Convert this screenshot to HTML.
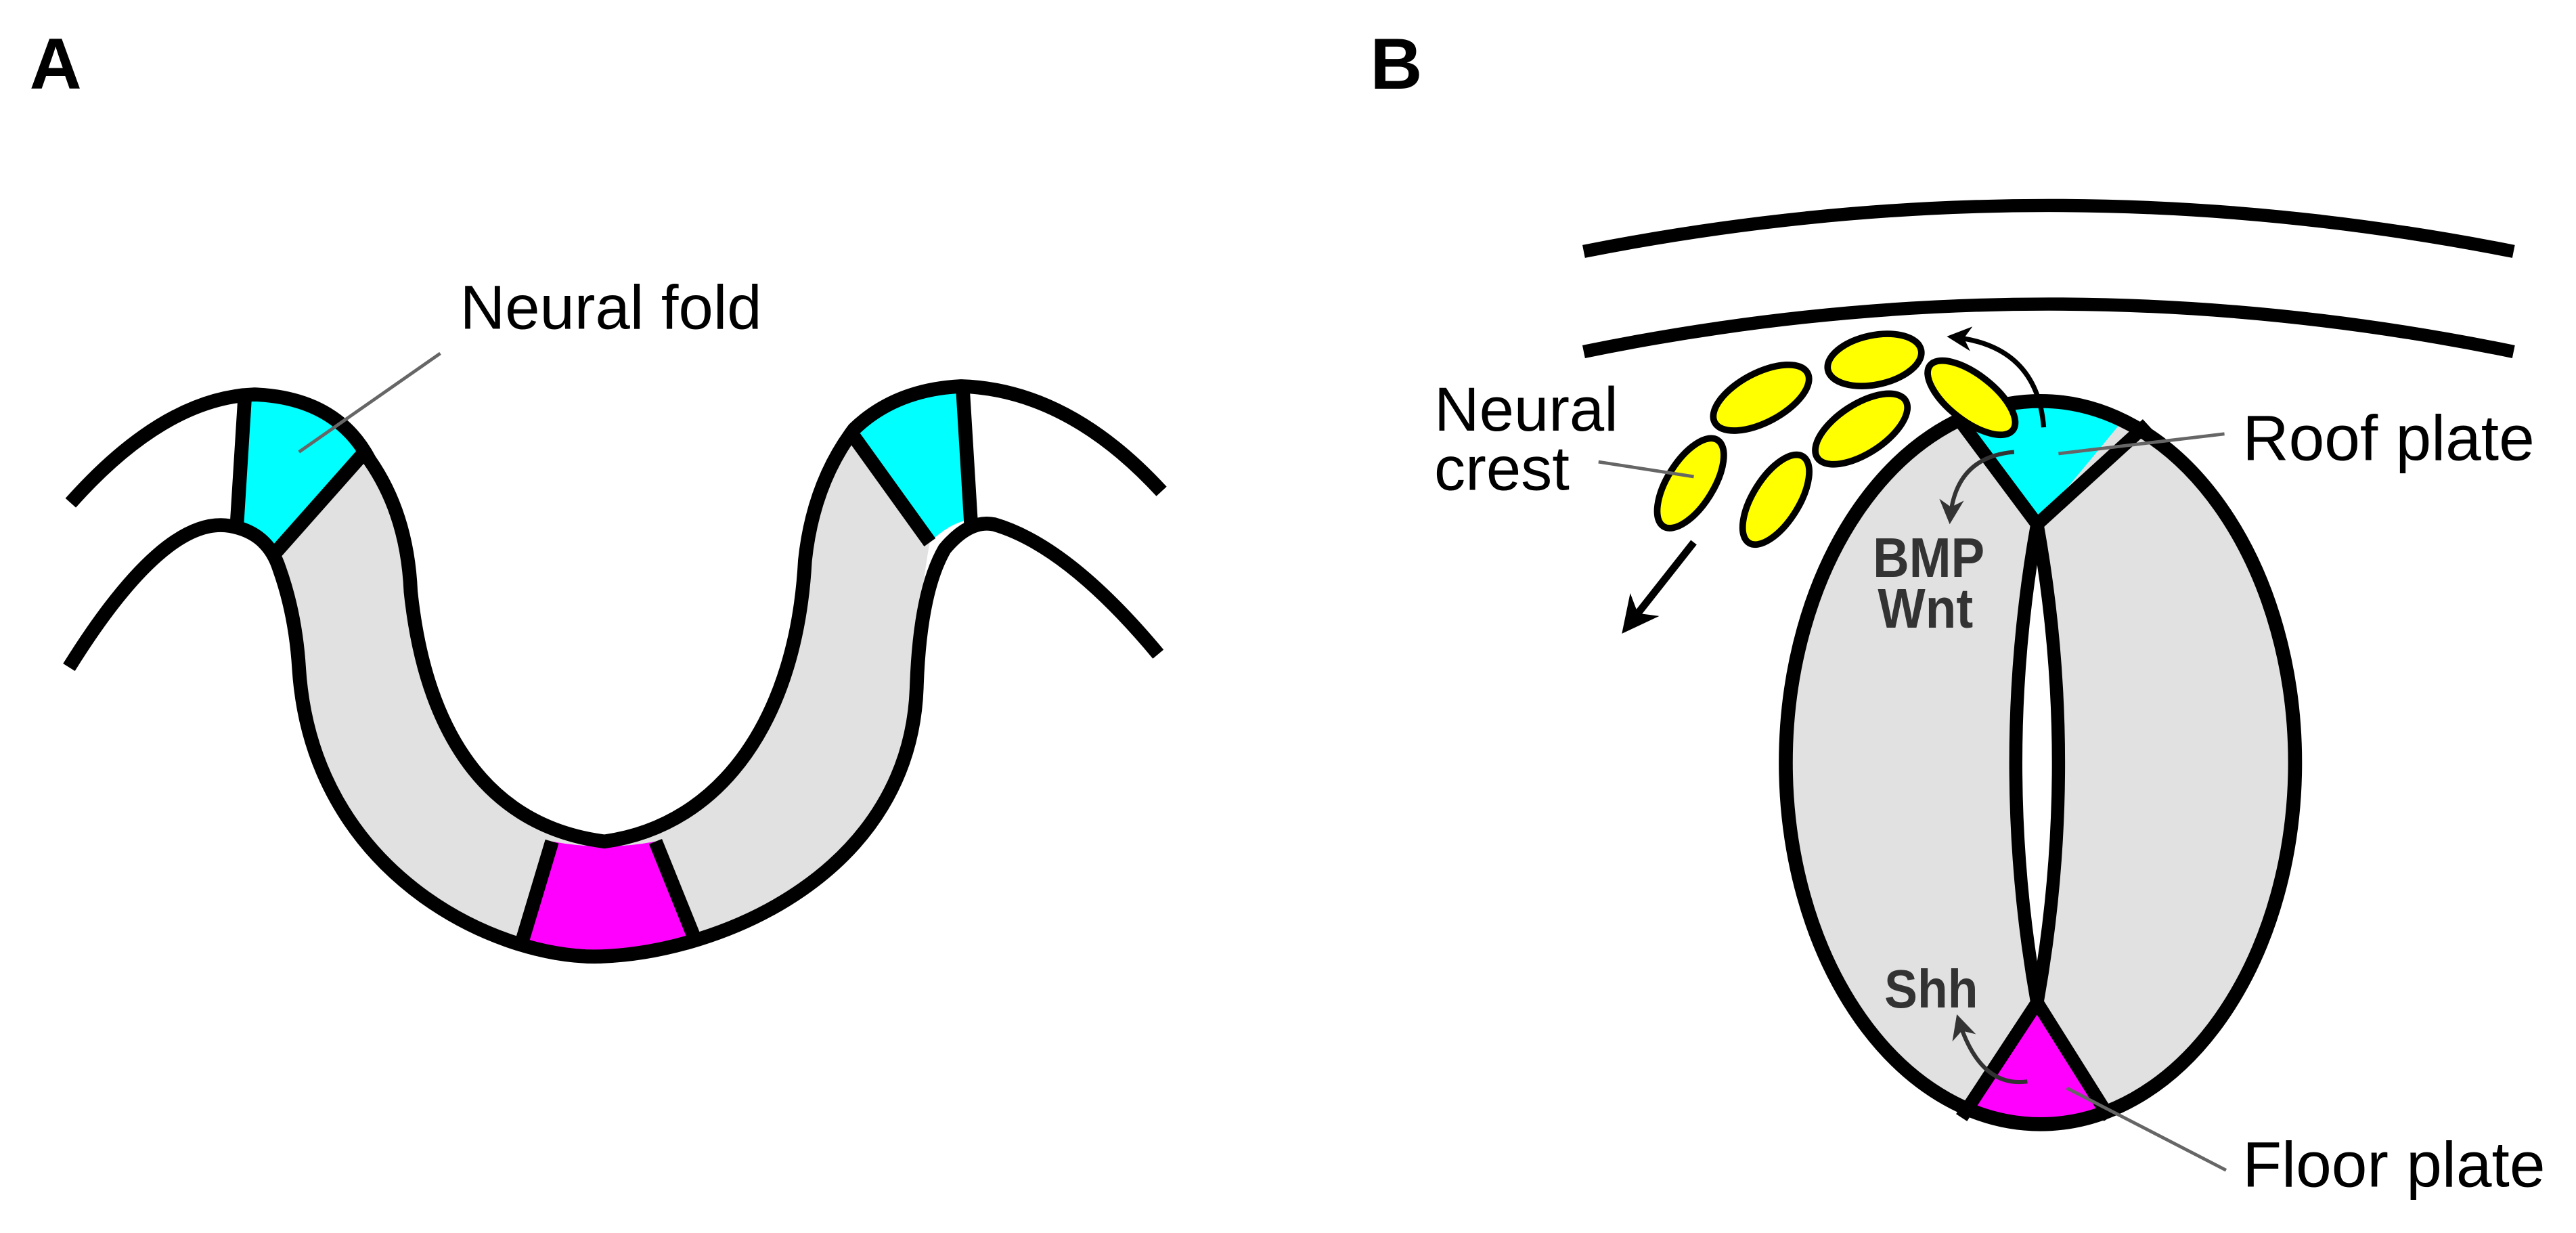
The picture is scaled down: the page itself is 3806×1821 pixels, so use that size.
<!DOCTYPE html>
<html><head><meta charset="utf-8"><style>
html,body{margin:0;padding:0;background:#fff;}
svg{display:block;}
text{font-family:"Liberation Sans",Arial,sans-serif;}
</style></head><body>
<svg width="3806" height="1821" viewBox="0 0 1568 750.2" preserveAspectRatio="none" xmlns="http://www.w3.org/2000/svg">
<defs>
<marker id="ah" viewBox="0 0 10 10" refX="8" refY="5" markerWidth="5" markerHeight="5" orient="auto" markerUnits="strokeWidth"><path d="M0,0 L10,5 L0,10 L3,5 Z" fill="#000"/></marker>
<marker id="ah2" viewBox="0 0 10 10" refX="8" refY="5" markerWidth="6" markerHeight="6" orient="auto" markerUnits="strokeWidth"><path d="M0,0 L10,5 L0,10 L3,5 Z" fill="#333"/></marker>
<clipPath id="ec"><ellipse cx="1242" cy="464" rx="155" ry="220"/></clipPath>
</defs>
<rect width="1568" height="751" fill="#fff"/>
<!-- Panel A -->
<text x="18" y="54" font-size="44" font-weight="bold">A</text>
<path d="M167,337 Q180,374 182,407 C190,530 300,583 364,582 C440,580 555,530 558,417 Q560,360 566,330 L520,266 Q495,294 490,341 C485,436 440,502 368,512 C290,502 258,436 250,360 Q248,313 222,275 Z" fill="#e1e1e1"/>
<path d="M149,248 L144,320 Q158,324 167,337 L222,275 Q205,245 155,242 Z" fill="#00ffff"/>
<path d="M520,266 L566,330 Q578,318 591,316 L586,238 Q545,237 520,266 Z" fill="#00ffff"/>
<path d="M336,512 Q368,518 399,512 L422,569 Q370,585 318,572 Z" fill="#ff00ff"/>
<g fill="none" stroke="#000" stroke-width="8.5">
<path d="M43,306 Q100,242 155,240 Q205,242 225,280 Q248,313 250,360 C258,436 290,502 368,512 C440,502 485,436 490,341 Q495,294 520,261 Q545,237 585,235 Q650,237 707,299"/>
<path d="M42,406 Q100,313 140,320 Q163,324 170,346 Q180,374 182,407 C190,530 300,583 364,582 C440,580 555,530 558,417 Q560,360 575,334 Q590,316 605,319 Q650,332 705,398"/>
<path d="M149,242 L144,322 M167,337 L222,275 M586,236 L591,318 M520,266 L566,330 M336,512 L318,572 M399,512 L422,569"/>
</g>
<line x1="268" y1="215" x2="182" y2="275" stroke="#666" stroke-width="2"/>
<text x="280" y="200" font-size="38">Neural fold</text>

<!-- Panel B -->
<text x="834" y="54" font-size="44" font-weight="bold">B</text>
<g fill="none" stroke="#000" stroke-width="8">
<path d="M964,153 Q1247,97 1530,153"/>
<path d="M964,214 Q1247,156 1530,214"/>
</g>
<ellipse cx="1242" cy="464" rx="155" ry="220" fill="#e1e1e1"/>
<g clip-path="url(#ec)">
<path d="M1240,319 L1165,210 L1330,210 Z" fill="#00ffff"/>
<path d="M1240,610 L1160,730 L1320,730 Z" fill="#ff00ff"/>
</g>
<path d="M1240,319 Q1214,464 1240,610 Q1266,464 1240,319 Z" fill="#fff" stroke="#000" stroke-width="8"/>
<g stroke="#000" stroke-width="8" fill="none">
<path d="M1240,319 L1190,252 M1240,319 L1307,258 M1240,610 L1194,680 M1240,610 L1284,680"/>
</g>
<ellipse cx="1242" cy="464" rx="155" ry="220" fill="none" stroke="#000" stroke-width="8.5"/>
<!-- yellow crest cells -->
<g fill="#ffff00" stroke="#000" stroke-width="4">
<ellipse cx="1141" cy="219" rx="29" ry="15" transform="rotate(-12 1141 219)"/>
<ellipse cx="1072" cy="242" rx="32" ry="15" transform="rotate(-28 1072 242)"/>
<ellipse cx="1200" cy="242" rx="32" ry="14" transform="rotate(38 1200 242)"/>
<ellipse cx="1133" cy="261" rx="32" ry="15" transform="rotate(-33 1133 261)"/>
<ellipse cx="1029" cy="294" rx="31" ry="14" transform="rotate(-58 1029 294)"/>
<ellipse cx="1081" cy="304" rx="31" ry="14" transform="rotate(-58 1081 304)"/>
</g>
<!-- arrows -->
<path d="M1244,260 Q1240,210 1188,205" fill="none" stroke="#000" stroke-width="3" marker-end="url(#ah)"/>
<path d="M1031,330 L990,382" fill="none" stroke="#000" stroke-width="4.5" marker-end="url(#ah)"/>
<path d="M1226,275 Q1190,278 1187,316" fill="none" stroke="#333" stroke-width="2.5" marker-end="url(#ah2)"/>
<path d="M1234,658 Q1205,662 1192,620" fill="none" stroke="#333" stroke-width="2.5" marker-end="url(#ah2)"/>
<!-- leaders -->
<g stroke="#666" stroke-width="2">
<line x1="973" y1="281" x2="1031" y2="290"/>
<line x1="1354" y1="264" x2="1253" y2="276"/>
<line x1="1355" y1="712" x2="1258" y2="662"/>
</g>
<text x="1140" y="351" font-size="34" font-weight="bold" fill="#333" textLength="68" lengthAdjust="spacingAndGlyphs">BMP</text>
<text x="1143" y="382" font-size="34" font-weight="bold" fill="#333" textLength="58" lengthAdjust="spacingAndGlyphs">Wnt</text>
<text x="1147" y="613" font-size="33" font-weight="bold" fill="#333" textLength="57" lengthAdjust="spacingAndGlyphs">Shh</text>
<text x="873" y="262" font-size="38">Neural</text>
<text x="873" y="298" font-size="38">crest</text>
<text x="1365" y="280" font-size="39">Roof plate</text>
<text x="1365" y="722" font-size="39">Floor plate</text>
</svg>
</body></html>
